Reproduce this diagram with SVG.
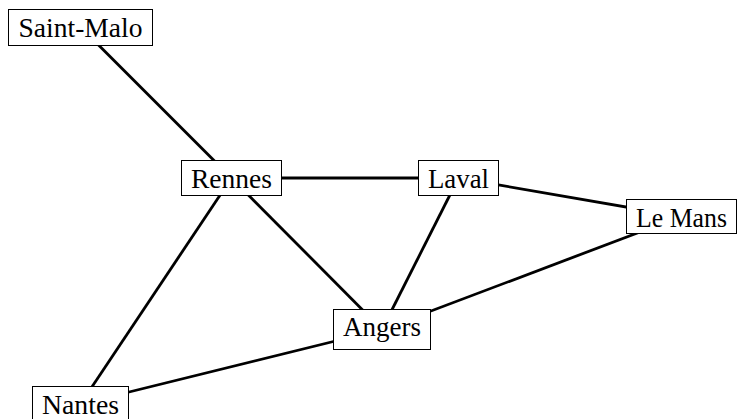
<svg xmlns="http://www.w3.org/2000/svg" width="737" height="419" viewBox="0 0 737 419">
  <style>
    .edge { stroke: #000; stroke-width: 2.8; fill: none; }
    .box { fill: #fff; stroke: #000; stroke-width: 1; }
    .label { font-family: "Liberation Serif", "DejaVu Serif", serif; font-size: 27px; fill: #000; text-anchor: middle; dominant-baseline: central; }
  </style>
  <rect width="737" height="419" fill="#fff"/>
  <g id="connectors">
    <line class="edge" x1="80.5" y1="27" x2="231.5" y2="178"/>
    <line class="edge" x1="231.5" y1="178" x2="458.5" y2="178"/>
    <line class="edge" x1="458.5" y1="178" x2="681" y2="216.5"/>
    <line class="edge" x1="231.5" y1="178" x2="382" y2="329.5"/>
    <line class="edge" x1="231.5" y1="178" x2="80.5" y2="404"/>
    <line class="edge" x1="458.5" y1="178" x2="382" y2="329.5"/>
    <line class="edge" x1="681" y1="216.5" x2="382" y2="329.5"/>
    <line class="edge" x1="382" y1="329.5" x2="80.5" y2="404"/>
  </g>
  <g id="saint-malo">
    <rect class="box" x="8.5" y="9.5" width="144" height="36"/>
    <text class="label" x="80.5" y="28" textLength="124" lengthAdjust="spacingAndGlyphs">Saint-Malo</text>
  </g>
  <g id="rennes">
    <rect class="box" x="181.5" y="160.5" width="100" height="35"/>
    <text class="label" x="231.5" y="179" textLength="81" lengthAdjust="spacingAndGlyphs">Rennes</text>
  </g>
  <g id="laval">
    <rect class="box" x="418.5" y="160.5" width="80" height="35"/>
    <text class="label" x="458.5" y="179" textLength="61" lengthAdjust="spacingAndGlyphs">Laval</text>
  </g>
  <g id="le-mans">
    <rect class="box" x="626.5" y="199.5" width="110" height="34"/>
    <text class="label" x="681.5" y="218" textLength="91" lengthAdjust="spacingAndGlyphs">Le Mans</text>
  </g>
  <g id="angers">
    <rect class="box" x="333.5" y="309.5" width="97" height="40"/>
    <text class="label" x="382" y="327" textLength="78" lengthAdjust="spacingAndGlyphs">Angers</text>
  </g>
  <g id="nantes">
    <rect class="box" x="32.5" y="386.5" width="96" height="38"/>
    <text class="label" x="80.5" y="405" textLength="77" lengthAdjust="spacingAndGlyphs">Nantes</text>
  </g>
</svg>
